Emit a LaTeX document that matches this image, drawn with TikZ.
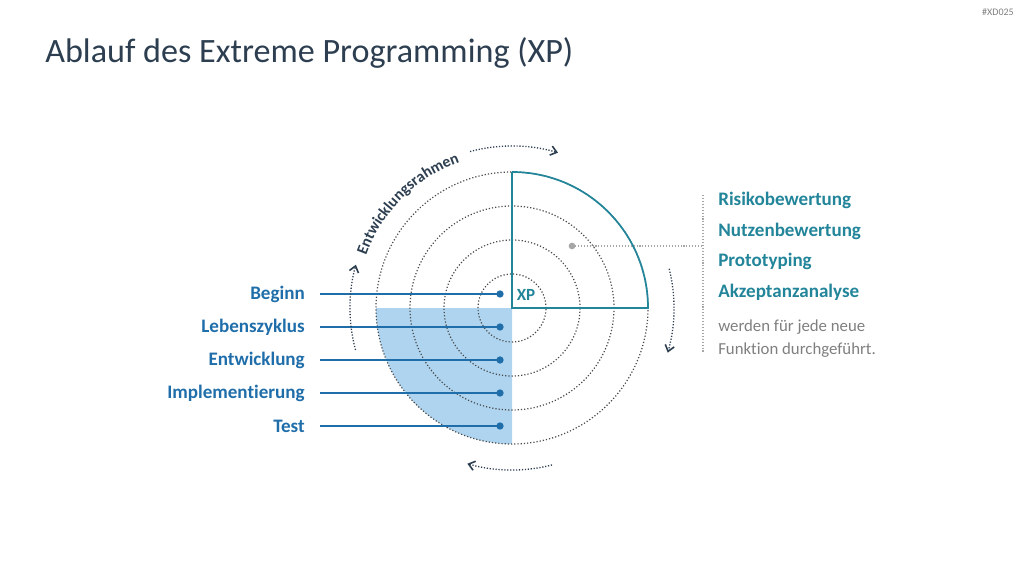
\documentclass[tikz,border=0pt]{standalone}
\usepackage{fontspec}
\setmainfont{Carlito}[Ligatures=NoCommon]
\usetikzlibrary{arrows.meta,decorations.text}
\definecolor{navy}{HTML}{2C3E50}
\definecolor{lblue}{HTML}{1F6EAA}
\definecolor{teal2}{HTML}{22859A}
\definecolor{lightfill}{HTML}{AED4F0}
\definecolor{txtgray}{HTML}{7F7F7F}
\definecolor{dotgray}{HTML}{4A4A4A}
\begin{document}
\begin{tikzpicture}[x=0.75pt,y=0.75pt,
  ring/.style={draw=dotgray,line width=0.9pt,dash pattern=on 0.9pt off 1.5pt},
  cyc/.style={draw=navy,line width=1pt,dash pattern=on 0.9pt off 1.3pt,-{Straight Barb[length=4.5pt,width=7pt,line width=1.2pt]}},
  leftlab/.style={anchor=east,text=lblue,font=\fontsize{14.3}{16}\selectfont\bfseries,inner sep=0pt},
  rightlab/.style={anchor=base west,text=teal2,font=\fontsize{14.3}{16}\selectfont\bfseries,inner sep=0pt},
  graylab/.style={anchor=base west,text=txtgray,font=\fontsize{12.6}{14}\selectfont,inner sep=0pt},
  conn/.style={draw=lblue,line width=1.3pt},
  enddot/.style={circle,fill=lblue,inner sep=0pt,minimum size=5.5pt}]
\useasboundingbox (0,0) rectangle (1024,576);
\coordinate (C) at (512,268);
% title
\node[anchor=base west,inner sep=0pt,text=navy,font=\fontsize{25.6}{29}\selectfont] (title) at (45,513) {Ablauf des Extreme Programming (XP)};
\node[anchor=base east,inner sep=0pt,text=txtgray,font=\fontsize{7.5}{9}\selectfont] (tag) at (1014,560) {\#XD025};
% shaded quadrant
\fill[lightfill] (C) -- (376,268) arc (180:270:136) -- cycle;
% rings
\foreach \r in {34,68,102,136} \draw[ring] (C) circle (\r);
% teal quarter
\draw[teal2,line width=1.3pt,line join=miter] (512,404) -- (C) -- (648,268) arc (0:90:136);
\node[text=teal2,font=\fontsize{12.8}{14}\selectfont\bfseries,inner sep=0pt] (xp) at (526,281) {XP};
% left labels and connectors
\foreach \name/\lab/\y in {b/Beginn/282, l/Lebenszyklus/249, e/Entwicklung/216, i/Implementierung/183, t/Test/150}{
  \node[leftlab] (\name) at (305,\y) {\lab};
  \node[enddot] (\name d) at (500,\y) {};
  \coordinate (\name s) at (320,\y);
  \draw[conn] (\name s) -- (\name d.center);
}
% right side
\node[rightlab] (r1) at (718,371) {Risikobewertung};
\node[rightlab] (r2) at (718,340) {Nutzenbewertung};
\node[rightlab] (r3) at (718,310) {Prototyping};
\node[rightlab] (r4) at (718,279) {Akzeptanzanalyse};
\node[graylab] (g1) at (718,245) {werden für jede neue};
\node[graylab] (g2) at (718,222) {Funktion durchgeführt.};
\coordinate (vt) at (703,381);
\coordinate (vb) at (703,223);
\coordinate (vm) at (703,330);
\node[circle,fill=gray!70,inner sep=0pt,minimum size=5pt] (gd) at (572,330) {};
\draw[gray!70,line width=0.9pt,dash pattern=on 0.8pt off 1.4pt] (vt) -- (vb);
\draw[gray!70,line width=0.9pt,dash pattern=on 0.8pt off 1.4pt] (gd.center) -- (vm);
% cycle arrows
\draw[cyc] ([shift={(105:162)}]C) arc (105:73.5:162);
\draw[cyc] ([shift={(14:162)}]C) arc (14:-16:162);
\draw[cyc] ([shift={(-75.7:162)}]C) arc (-75.7:-106:162);
\draw[cyc] ([shift={(195:162)}]C) arc (195:164.5:162);
% curved label
\path[decorate,decoration={text along path,text align=center,
  text={|\fontsize{11.8}{14}\selectfont\bfseries\color{navy}|Entwicklungsrahmen}}]
  ([shift={(167:155)}]C) arc (167:103:155);
\end{tikzpicture}
\end{document}
